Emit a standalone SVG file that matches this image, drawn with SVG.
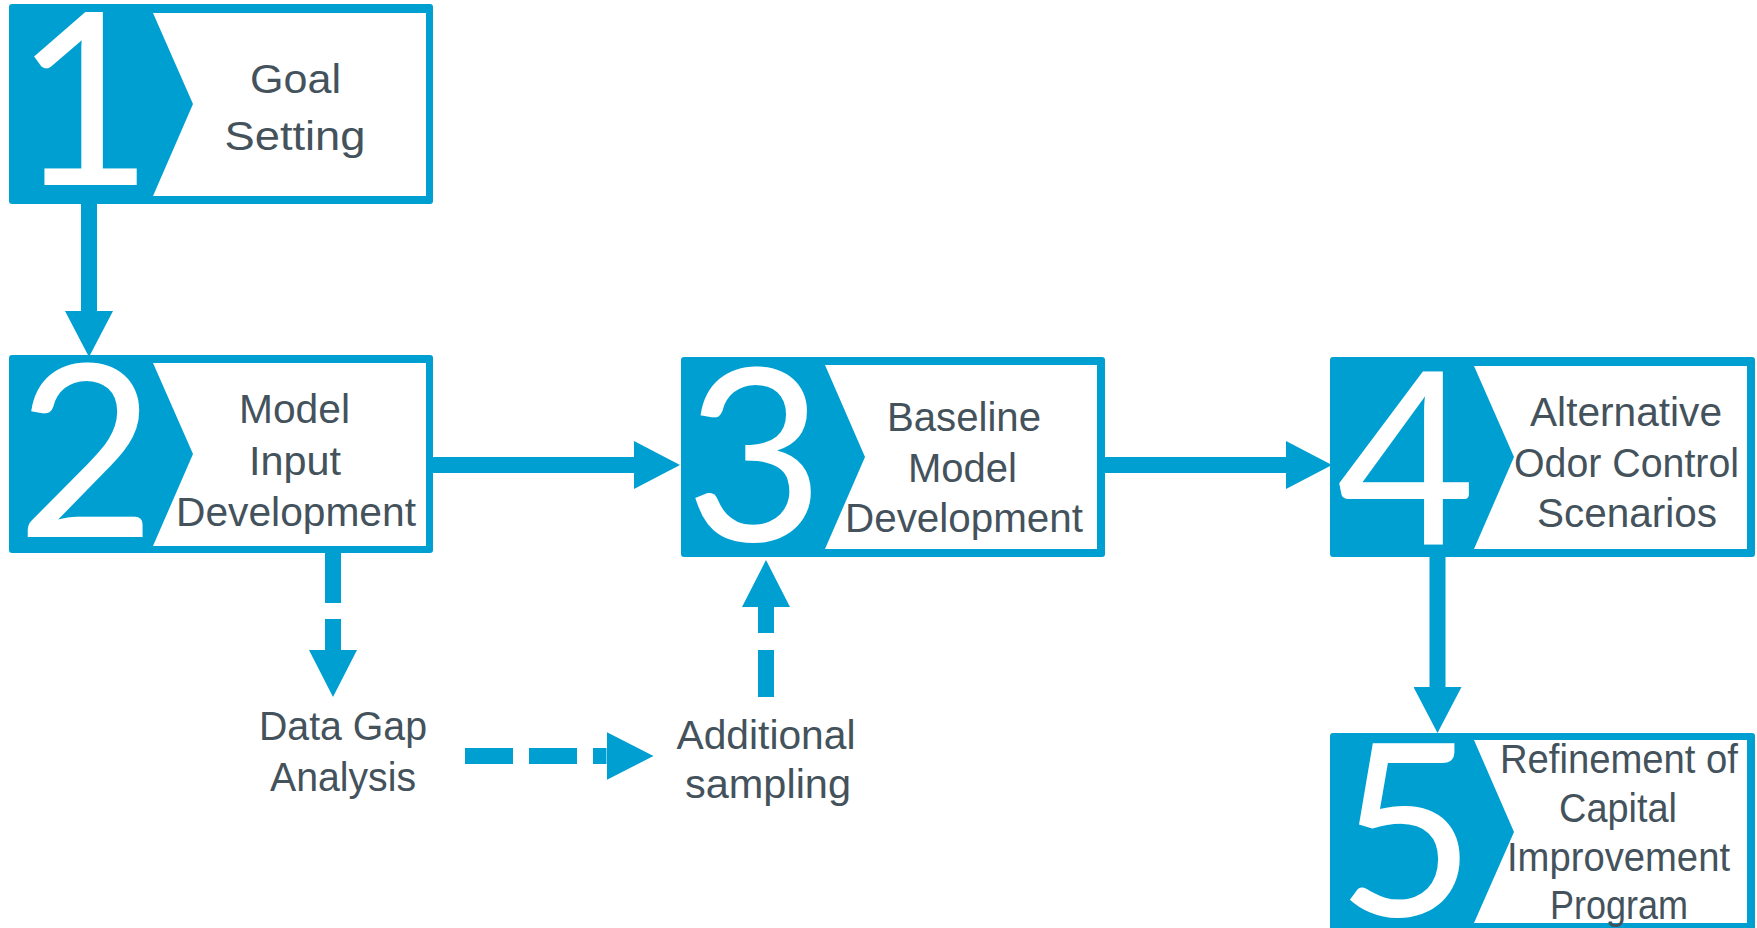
<svg xmlns="http://www.w3.org/2000/svg" width="1757" height="928" viewBox="0 0 1757 928">
  <style>
    .frame { fill: #009fd1; }
    .panel { fill: #ffffff; }
    .num { font-family: Lato, "DejaVu Sans", sans-serif; font-size: 240px; font-weight: 400; fill: #ffffff; text-anchor: middle; }
    .lbl { font-family: "Liberation Sans", Arial, sans-serif; font-size: 40px; fill: #44525c; text-anchor: middle; }
    .conn { fill: none; stroke: #009fd1; stroke-width: 16; stroke-linecap: butt; }
    .dash { fill: none; stroke: #009fd1; stroke-width: 16; stroke-linecap: butt; }
    .head { fill: #009fd1; }
  </style>
  <defs>
    <marker id="arrow" markerUnits="userSpaceOnUse" viewBox="0 0 46 48" markerWidth="46" markerHeight="48" refX="0" refY="24" orient="auto">
      <path class="head" d="M0,0 L46,24 L0,48 Z"/>
    </marker>
    <marker id="arrowDash" markerUnits="userSpaceOnUse" viewBox="0 0 47 48" markerWidth="47" markerHeight="48" refX="0" refY="24" orient="auto">
      <path class="head" d="M0,0 L47,24 L0,48 Z"/>
    </marker>
  </defs>

  <g id="connectors">
    <path class="conn" d="M89 204 V311" marker-end="url(#arrow)"/>
    <path class="conn" d="M433 465 H634" marker-end="url(#arrow)"/>
    <path class="conn" d="M1105 465 H1286" marker-end="url(#arrow)"/>
    <path class="conn" d="M1437.5 557 V687" marker-end="url(#arrow)"/>
    <path class="dash" d="M333 553 V650" stroke-dasharray="50 16" marker-end="url(#arrowDash)"/>
    <path class="dash" d="M465 756 H606.5" stroke-dasharray="48 16" marker-end="url(#arrowDash)"/>
    <path class="dash" d="M766 697 V607" stroke-dasharray="47 17" marker-end="url(#arrowDash)"/>
  </g>

  <g id="step1">
    <rect class="frame" x="9" y="4" width="424" height="200" rx="3"/>
    <polygon class="panel" points="153,13 426,13 426,196 153,196 193,104"/>
    <text class="num" x="84" y="185">1</text>
    <text class="lbl" x="295.5" y="93" font-size="42" textLength="91" lengthAdjust="spacingAndGlyphs">Goal</text>
    <text class="lbl" x="295" y="150" font-size="42" textLength="141" lengthAdjust="spacingAndGlyphs">Setting</text>
  </g>

  <g id="step2">
    <rect class="frame" x="9" y="355" width="424" height="198" rx="3"/>
    <polygon class="panel" points="153,363 426,363 426,546 153,546 193,454"/>
    <text class="num" x="86" y="537">2</text>
    <text class="lbl" x="294.5" y="423" textLength="111" lengthAdjust="spacingAndGlyphs">Model</text>
    <text class="lbl" x="295" y="475" textLength="92" lengthAdjust="spacingAndGlyphs">Input</text>
    <text class="lbl" x="296" y="526" textLength="240" lengthAdjust="spacingAndGlyphs">Development</text>
  </g>

  <g id="step3">
    <rect class="frame" x="681" y="357" width="424" height="200" rx="3"/>
    <polygon class="panel" points="825,365 1097,365 1097,549 825,549 865,457"/>
    <text class="num" x="754.5" y="541">3</text>
    <text class="lbl" x="964" y="431" textLength="154" lengthAdjust="spacingAndGlyphs">Baseline</text>
    <text class="lbl" x="962.5" y="482" textLength="109" lengthAdjust="spacingAndGlyphs">Model</text>
    <text class="lbl" x="964" y="532" textLength="238" lengthAdjust="spacingAndGlyphs">Development</text>
  </g>

  <g id="step4">
    <rect class="frame" x="1330" y="357" width="425" height="200" rx="3"/>
    <polygon class="panel" points="1474,366 1747,366 1747,549 1474,549 1514,457"/>
    <text class="num" x="1406" y="544">4</text>
    <text class="lbl" x="1626" y="426" textLength="192" lengthAdjust="spacingAndGlyphs">Alternative</text>
    <text class="lbl" x="1626.5" y="477" textLength="225" lengthAdjust="spacingAndGlyphs">Odor Control</text>
    <text class="lbl" x="1627" y="527" textLength="180" lengthAdjust="spacingAndGlyphs">Scenarios</text>
  </g>

  <g id="step5">
    <rect class="frame" x="1330" y="733" width="425" height="197" rx="3"/>
    <polygon class="panel" points="1474,740 1747,740 1747,923 1474,923 1514,832"/>
    <text class="num" x="1406" y="916">5</text>
    <text class="lbl" x="1619" y="773" font-size="39" textLength="238" lengthAdjust="spacingAndGlyphs">Refinement of</text>
    <text class="lbl" x="1618" y="822" font-size="39" textLength="118" lengthAdjust="spacingAndGlyphs">Capital</text>
    <text class="lbl" x="1618.5" y="871" font-size="39" textLength="223" lengthAdjust="spacingAndGlyphs">Improvement</text>
    <text class="lbl" x="1619" y="919" font-size="39" textLength="138" lengthAdjust="spacingAndGlyphs">Program</text>
  </g>

  <g id="data-gap-analysis">
    <text class="lbl" x="343" y="740" textLength="168" lengthAdjust="spacingAndGlyphs">Data Gap</text>
    <text class="lbl" x="343" y="791" textLength="146" lengthAdjust="spacingAndGlyphs">Analysis</text>
  </g>

  <g id="additional-sampling">
    <text class="lbl" x="766" y="749" textLength="179" lengthAdjust="spacingAndGlyphs">Additional</text>
    <text class="lbl" x="768" y="798" textLength="166" lengthAdjust="spacingAndGlyphs">sampling</text>
  </g>
</svg>
